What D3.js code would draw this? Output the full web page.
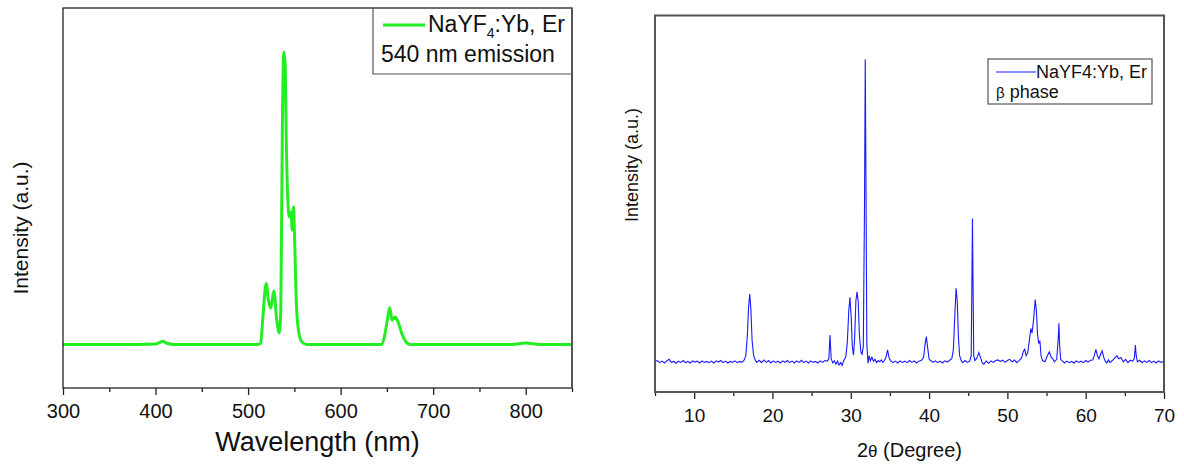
<!DOCTYPE html>
<html>
<head>
<meta charset="utf-8">
<script src="https://cdn.jsdelivr.net/npm/d3@7"></script>
<style>
  body { margin: 0; background: #fff; }
  text { font-family: "Liberation Sans", Arial, sans-serif; fill: #111; }
</style>
</head>
<body>
<div id="chart"></div>
<script>
// upconversion emission spectrum, [wavelength nm, intensity a.u.]
const emission = [
  [300, 0], [380, 0], [400, 0.001], [404, 0.006], [408, 0.011], [412, 0.004], [420, 0],
  [510, 0], [513.6, 0.004], [515.9, 0.09], [519.5, 0.208], [522, 0.15], [524.5, 0.124],
  [527.8, 0.183], [531, 0.083], [533.5, 0.04], [535.3, 0.107], [537, 0.732], [538.6, 1.0],
  [540, 0.961], [541.4, 0.675], [542.9, 0.499], [544.6, 0.436], [546.5, 0.453],
  [547.6, 0.391], [549, 0.47], [550.5, 0.334], [551.9, 0.163], [554.4, 0.049],
  [558, 0.009], [563.5, 0],
  [644.5, 0], [648, 0.038], [651, 0.094], [653, 0.125], [655.7, 0.083], [658.9, 0.094],
  [662.5, 0.073], [666, 0.038], [670.5, 0.009], [675, 0],
  [785, 0], [800, 0.005], [815, 0], [850, 0]
];

// XRD pattern, [2theta degree, intensity a.u.]
const xrdPattern = [
  [5.0, 0.000], [5.3, 0.004], [5.6, -0.003], [5.9, 0.002], [6.2, -0.004], [6.5, 0.003],
  [6.8, 0.008], [7.1, -0.002], [7.4, 0.001], [7.7, -0.005], [8.0, 0.002], [8.3, -0.002],
  [8.6, 0.004], [8.9, -0.003], [9.2, 0.001], [9.5, -0.004], [9.8, 0.003], [10.1, -0.001],
  [10.4, 0.002], [10.7, -0.004], [11.0, 0.003], [11.3, -0.002], [11.6, 0.001], [11.9, -0.003],
  [12.2, 0.002], [12.5, -0.004], [12.8, 0.003], [13.1, -0.001], [13.4, 0.004], [13.7, -0.003],
  [14.0, 0.002], [14.3, -0.004], [14.6, 0.001], [14.9, -0.002], [15.2, 0.003], [15.5, -0.003],
  [15.8, 0.001], [16.1, -0.002], [16.4, 0.006], [16.6, 0.02], [16.8, 0.09], [16.95, 0.18],
  [17.1, 0.224], [17.25, 0.17], [17.4, 0.07], [17.6, 0.02], [17.8, 0.006], [18.0, -0.002],
  [18.3, 0.005], [18.6, -0.003], [18.9, 0.006], [19.2, -0.002], [19.5, 0.004], [19.8, -0.004],
  [20.1, 0.003], [20.4, -0.002], [20.7, 0.002], [21.0, -0.004], [21.3, 0.003], [21.6, -0.002],
  [21.9, 0.004], [22.2, -0.003], [22.5, 0.002], [22.8, -0.004], [23.1, 0.003], [23.4, -0.002],
  [23.7, 0.005], [24.0, -0.003], [24.3, 0.002], [24.6, -0.004], [24.9, 0.003], [25.2, -0.002],
  [25.5, 0.001], [25.8, -0.004], [26.1, 0.003], [26.4, -0.002], [26.7, 0.004], [27.0, 0.002],
  [27.2, 0.01], [27.35, 0.088], [27.5, 0.01], [27.7, -0.004], [27.9, 0.003], [28.1, -0.008],
  [28.3, 0.002], [28.5, -0.011], [28.7, -0.003], [28.9, -0.012], [29.1, 0.004], [29.35, 0.015],
  [29.55, 0.06], [29.75, 0.17], [29.9, 0.213], [30.05, 0.15], [30.2, 0.05], [30.35, 0.022],
  [30.5, 0.08], [30.65, 0.2], [30.8, 0.231], [30.95, 0.2], [31.1, 0.09], [31.3, 0.03],
  [31.45, 0.025], [31.6, 0.05], [31.75, 0.5], [31.85, 1.0], [31.95, 0.55], [32.05, 0.06],
  [32.2, -0.005], [32.35, 0.02], [32.5, 0.003], [32.7, 0.015], [32.9, 0.002], [33.1, 0.008],
  [33.3, -0.003], [33.5, 0.004], [33.7, 0.0], [33.9, 0.006], [34.1, -0.002], [34.3, 0.004],
  [34.5, 0.015], [34.7, 0.039], [34.9, 0.012], [35.1, 0.003], [35.4, -0.003], [35.7, 0.002],
  [36.0, -0.004], [36.3, 0.003], [36.6, -0.002], [36.9, 0.002], [37.2, -0.003], [37.5, 0.004],
  [37.8, -0.002], [38.1, 0.003], [38.4, -0.004], [38.7, 0.002], [39.0, 0.004], [39.3, 0.015],
  [39.5, 0.06], [39.65, 0.083], [39.8, 0.05], [40.0, 0.01], [40.2, 0.004], [40.5, -0.002],
  [40.8, 0.003], [41.1, -0.003], [41.4, 0.002], [41.7, -0.004], [42.0, 0.003], [42.3, -0.001],
  [42.6, 0.004], [42.9, 0.01], [43.1, 0.04], [43.3, 0.16], [43.45, 0.243], [43.6, 0.2],
  [43.75, 0.08], [43.9, 0.02], [44.1, 0.004], [44.3, -0.003], [44.6, 0.004], [44.9, -0.002],
  [45.2, 0.003], [45.38, 0.02], [45.48, 0.3], [45.54, 0.474], [45.6, 0.3], [45.7, 0.02],
  [45.85, 0.004], [46.1, 0.012], [46.35, 0.03], [46.6, 0.012], [46.8, -0.004], [47.0, -0.008],
  [47.3, 0.002], [47.6, -0.005], [47.9, 0.003], [48.2, -0.002], [48.5, 0.004], [48.8, 0.006],
  [49.1, 0.001], [49.4, 0.005], [49.7, -0.002], [50.0, 0.004], [50.3, 0.008], [50.6, 0.0],
  [50.9, 0.006], [51.2, -0.003], [51.5, 0.004], [51.8, 0.012], [52.05, 0.035], [52.2, 0.041],
  [52.4, 0.02], [52.6, 0.03], [52.85, 0.08], [53.0, 0.11], [53.15, 0.095], [53.35, 0.14],
  [53.55, 0.206], [53.7, 0.17], [53.85, 0.09], [54.0, 0.06], [54.15, 0.07], [54.3, 0.02],
  [54.5, 0.004], [54.8, 0.0], [55.1, 0.02], [55.35, 0.033], [55.6, 0.015], [55.8, 0.01],
  [56.0, 0.0], [56.3, 0.008], [56.5, 0.08], [56.58, 0.127], [56.66, 0.06], [56.8, 0.008],
  [57.0, 0.003], [57.3, -0.004], [57.6, 0.002], [57.9, -0.003], [58.2, 0.001], [58.5, -0.004],
  [58.8, 0.003], [59.1, -0.002], [59.4, 0.002], [59.7, -0.003], [60.0, 0.004], [60.3, -0.001],
  [60.6, 0.005], [60.9, 0.006], [61.1, 0.02], [61.3, 0.041], [61.5, 0.02], [61.7, 0.01],
  [61.9, 0.025], [62.1, 0.036], [62.3, 0.015], [62.5, 0.002], [62.7, -0.004], [62.9, 0.006],
  [63.1, -0.002], [63.4, 0.004], [63.7, 0.012], [64.0, 0.02], [64.2, 0.01], [64.5, 0.014],
  [64.8, 0.0], [65.1, 0.008], [65.4, -0.003], [65.7, 0.005], [66.0, 0.002], [66.2, 0.01],
  [66.35, 0.055], [66.45, 0.02], [66.6, 0.0], [66.9, 0.005], [67.2, -0.003], [67.5, 0.003],
  [67.8, -0.002], [68.1, 0.004], [68.4, -0.003], [68.7, 0.002], [69.0, -0.004], [69.3, 0.003],
  [69.6, -0.002], [70.0, 0.001]
];

const wlTicks = [300, 400, 500, 600, 700, 800];
const wlMinor = [350, 450, 550, 650, 750, 850];
const degTicks = [10, 20, 30, 40, 50, 60, 70];
const degMinor = [5, 15, 25, 35, 45, 55, 65];

const width = 1184;
const height = 467;

const svg = d3.select('#chart')
  .append('svg')
  .attr('width', width)
  .attr('height', height);

function drawTicks(g, x, bottom, major, minor, fontSize, pad) {
  g.append('g')
    .attr('transform', `translate(0, ${bottom})`)
    .call(d3.axisBottom(x).tickValues(minor).tickSize(4).tickFormat(''))
    .call((a) => a.select('.domain').remove());
  const ax = g.append('g')
    .attr('transform', `translate(0, ${bottom})`)
    .call(d3.axisBottom(x).tickValues(major).tickSize(7).tickPadding(pad).tickFormat(d3.format('d')));
  ax.select('.domain').remove();
  ax.selectAll('text')
    .style('font-size', fontSize + 'px')
    .style('font-family', '"Liberation Sans", Arial, sans-serif')
    .attr('fill', '#111');
  g.selectAll('.tick line').attr('stroke', '#222').attr('stroke-width', 1.3);
}

// left panel: emission spectrum
const L = { left: 63, right: 572, top: 8, bottom: 388 };
const xL = d3.scaleLinear().domain([300, 850]).range([L.left, L.right]);
const yL = d3.scaleLinear().domain([-0.149, 1.15]).range([L.bottom, L.top]);

const left = svg.append('g');
drawTicks(left, xL, L.bottom, wlTicks, wlMinor, 20, 9);

left.append('path')
  .datum(emission)
  .attr('fill', 'none')
  .attr('stroke', '#22ee22')
  .attr('stroke-width', 3)
  .attr('stroke-linejoin', 'round')
  .attr('d', d3.line().x((d) => xL(d[0])).y((d) => yL(d[1])).curve(d3.curveMonotoneX));

left.append('rect')
  .attr('x', L.left).attr('y', L.top)
  .attr('width', L.right - L.left).attr('height', L.bottom - L.top)
  .attr('fill', 'none').attr('stroke', '#222').attr('stroke-width', 1.3);
left.append('line')
  .attr('x1', L.right).attr('x2', L.right).attr('y1', L.top).attr('y2', L.bottom)
  .attr('stroke', '#555').attr('stroke-width', 2);

// legend box
left.append('path')
  .attr('d', `M373,${L.top} V74 H${L.right}`)
  .attr('fill', 'none').attr('stroke', '#555').attr('stroke-width', 1.2);
left.append('line')
  .attr('x1', 383).attr('x2', 425).attr('y1', 25).attr('y2', 25)
  .attr('stroke', '#22ee22').attr('stroke-width', 3);
const lg = left.append('text').attr('x', 428).attr('y', 32).style('font-size', '23px');
lg.append('tspan').text('NaYF');
lg.append('tspan').attr('dy', 6).style('font-size', '14px').text('4');
lg.append('tspan').attr('dy', -6).text(':Yb, Er');
left.append('text').attr('x', 381).attr('y', 62).style('font-size', '23px').text('540 nm emission');

left.append('text')
  .attr('x', (L.left + L.right) / 2).attr('y', 451)
  .attr('text-anchor', 'middle')
  .style('font-size', '27px')
  .text('Wavelength (nm)');
left.append('text')
  .attr('transform', 'translate(28, 228) rotate(-90)')
  .attr('text-anchor', 'middle')
  .style('font-size', '21px')
  .text('Intensity (a.u.)');

// right panel: XRD pattern
const R = { left: 655, right: 1164, top: 15.5, bottom: 392 };
const xR = d3.scaleLinear().domain([5, 70]).range([R.left, R.right]);
const yR = d3.scaleLinear().domain([-0.1, 1.145]).range([R.bottom, R.top]);

const right = svg.append('g');
drawTicks(right, xR, R.bottom, degTicks, degMinor, 19, 10);

right.append('path')
  .datum(xrdPattern)
  .attr('fill', 'none')
  .attr('stroke', '#1a1aff')
  .attr('stroke-width', 1.1)
  .attr('d', d3.line().x((d) => xR(d[0])).y((d) => yR(d[1])));

right.append('rect')
  .attr('x', R.left).attr('y', R.top)
  .attr('width', R.right - R.left).attr('height', R.bottom - R.top)
  .attr('fill', 'none').attr('stroke', '#555').attr('stroke-width', 2);

right.append('rect')
  .attr('x', 988).attr('y', 59).attr('width', 164).attr('height', 45)
  .attr('fill', '#fff').attr('stroke', '#555').attr('stroke-width', 1.2);
right.append('line')
  .attr('x1', 996).attr('x2', 1036).attr('y1', 72).attr('y2', 72)
  .attr('stroke', '#1a1aff').attr('stroke-width', 1.1);
right.append('text').attr('x', 1036).attr('y', 78).style('font-size', '18px').text('NaYF4:Yb, Er');
const beta = right.append('text').attr('x', 996).attr('y', 98).style('font-size', '18px');
beta.append('tspan').style('font-size', '15px').text('β');
beta.append('tspan').text(' phase');

const xt = right.append('text')
  .attr('x', (R.left + R.right) / 2).attr('y', 457)
  .attr('text-anchor', 'middle')
  .style('font-size', '20px');
xt.append('tspan').text('2');
xt.append('tspan').style('font-size', '17px').text('θ');
xt.append('tspan').text(' (Degree)');
right.append('text')
  .attr('transform', 'translate(638, 165) rotate(-90)')
  .attr('text-anchor', 'middle')
  .style('font-size', '18px')
  .text('Intensity (a.u.)');
</script>
</body>
</html>
